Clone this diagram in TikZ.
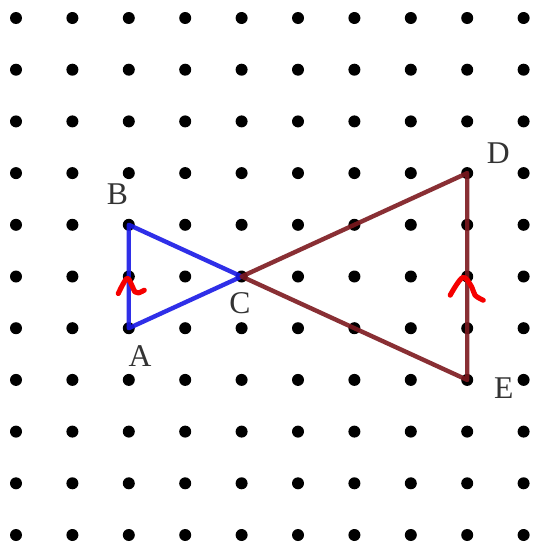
\documentclass[tikz,border=0pt]{standalone}
\usepackage{fontspec}
\setmainfont{Liberation Serif}
\usetikzlibrary{calc}
\definecolor{triblue}{RGB}{25,25,230}
\definecolor{trired}{RGB}{125,25,30}
\definecolor{markred}{RGB}{245,0,0}
\tikzset{
  gdot/.style={fill=black},
  bluetri/.style={draw=triblue, line width=2.5pt, line join=round, draw opacity=0.9},
  redtri/.style={draw=trired, line width=2.5pt, line join=round, draw opacity=0.9},
  hatmark/.style={draw=markred, line width=2.9pt, line cap=round, line join=round},
  lbl/.style={inner sep=0pt, text=black!80, font=\fontsize{18}{20}\selectfont}
}

\begin{document}
\begin{tikzpicture}[x=1.128cm, y=-1.034cm]
  \fill[white] (-0.2837,-0.3482) rectangle (9.1844,10.2321);
  \useasboundingbox (-0.2837,-0.3482) rectangle (9.1844,10.2321);
  % dot paper
  \foreach \i in {0,...,9}
    \foreach \j in {0,...,10}
      \fill[gdot] (\i,\j) circle (0.12cm);
  % vertices
  \coordinate (A) at (2,6);
  \coordinate (B) at (2,4);
  \coordinate (C) at (4,5);
  \coordinate (D) at (8,3);
  \coordinate (E) at (8,7);
  \draw[bluetri] (A) -- (B) -- (C) -- cycle;
  \draw[redtri] (C) -- (D) -- (E) -- cycle;
  % labels
  \node[lbl] (lA) at ($(A)+(0.20,0.54)$) {A};
  \node[lbl] (lB) at ($(B)+(-0.20,-0.60)$) {B};
  \node[lbl] (lC) at ($(C)+(-0.03,0.51)$) {C};
  \node[lbl] (lD) at ($(D)+(0.55,-0.39)$) {D};
  \node[lbl] (lE) at ($(E)+(0.65,0.16)$) {E};
  % equal side marks
  \draw[hatmark, shift={($(A)!.5!(B)$)}, x=0.02cm, y=-0.02cm]
    plot[smooth, tension=0.6] coordinates {(-10.5,17) (-2,2) (3,8.7) (6,15.3) (9.5,16.4) (15.5,13.7)};
  \draw[hatmark, shift={($(D)!.5!(E)$)}, x=0.02cm, y=-0.02cm]
    plot[smooth, tension=0.6] coordinates {(-17,18.7) (-4.5,1) (4.5,10.4) (7.8,18.7) (16,23.7)};
\end{tikzpicture}
\end{document}
